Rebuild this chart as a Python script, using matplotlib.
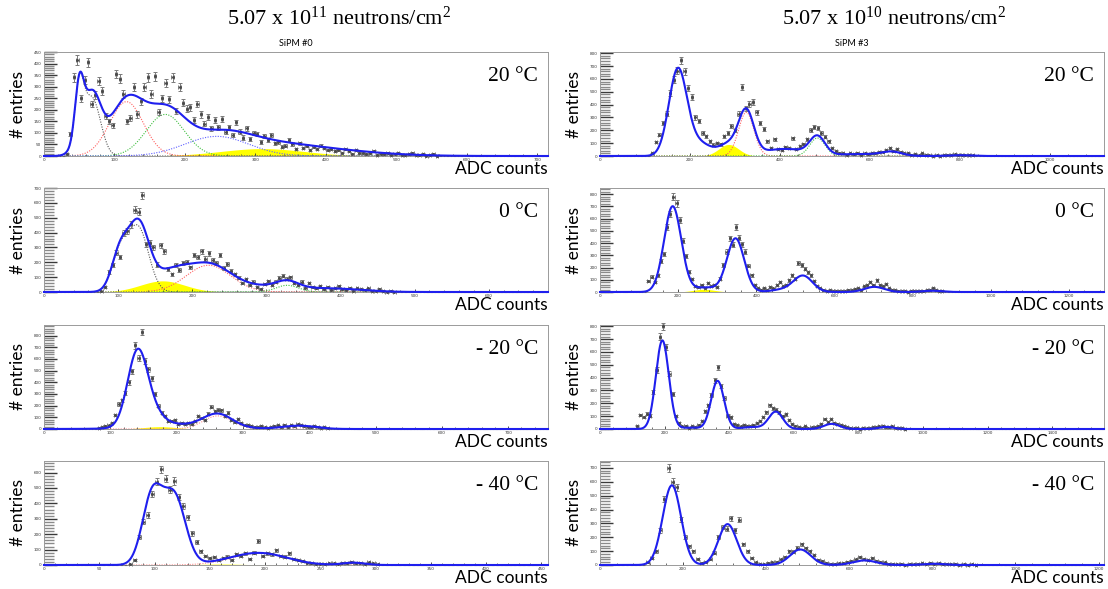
import numpy as np
import matplotlib
matplotlib.use("Agg")
import matplotlib.pyplot as plt
from matplotlib.ticker import MultipleLocator

plt.rcParams['mathtext.fontset'] = 'custom'
plt.rcParams['mathtext.rm'] = 'Liberation Serif'

W, H = 1108, 589

# ---------------- data ----------------
# histogram = first bin edge, bin width, counts
# fit = gaussian terms (mean, sigma, amplitude)
temps = ['20 °C', '0 °C', '- 20 °C', '- 40 °C']

# SiPM #0, 20 C
l1_x0, l1_bw = 30, 5
l1_counts = [10, 95, 340, 415, 250, 330, 405, 225, 265, 325,
             280, 172, 150, 132, 355, 335, 268, 150, 165, 300,
             180, 237, 300, 340, 268, 345, 190, 250, 315, 245,
             340, 195, 300, 230, 205, 210, 155, 225, 180, 140,
             170, 120, 155, 125, 160, 105, 125, 90, 145, 105,
             80, 120, 75, 100, 95, 60, 85, 70, 90, 55,
             60, 40, 45, 70, 50, 30, 55, 35, 45, 25,
             40, 30, 45, 35, 25, 30, 20, 25, 15, 30,
             20, 10, 25, 12, 15, 8, 12, 20, 6, 10,
             8, 12, 5, 10, 15, 6, 3, 8, 12, 5,
             3, 10, 0, 5, 8, 0]
l1_fit = [(50, 6, 220), (60, 13, 150), (72, 11, 140), (117, 24, 235),
          (172, 27, 180), (245, 45, 85), (310, 60, 32), (380, 80, 28)]

# SiPM #0, 0 C
l2_x0, l2_bw = 75, 5
l2_counts = [5, 35, 135, 180, 265, 235, 395, 410, 455, 555,
             540, 650, 320, 330, 300, 185, 315, 275, 155, 120,
             180, 150, 195, 200, 165, 250, 235, 275, 225, 260,
             215, 195, 250, 160, 190, 140, 120, 95, 60, 85,
             45, 70, 35, 20, 55, 75, 45, 70, 95, 110,
             90, 100, 60, 45, 70, 30, 60, 35, 25, 40,
             20, 35, 15, 25, 40, 20, 15, 30, 10, 25,
             20, 15, 25, 10, 8, 20, 5, 3, 8, 2]
l2_fit = [(102, 11, 240), (127, 14, 430), (160, 30, 75), (175, 20, 50),
          (222, 30, 180), (300, 40, 35), (328, 15, 45), (390, 40, 22)]

# SiPM #0, -20 C
l3_x0, l3_bw = 80, 5
l3_counts = [8, 15, 25, 30, 55, 120, 215, 245, 310, 400,
             495, 715, 610, 830, 580, 510, 435, 300, 200, 140,
             110, 65, 70, 75, 45, 50, 40, 55, 45, 65,
             110, 95, 75, 130, 190, 150, 165, 160, 115, 140,
             80, 60, 85, 50, 30, 35, 25, 20, 15, 25,
             15, 10, 20, 25, 30, 20, 35, 15, 30, 25,
             40, 30, 25, 20, 15, 25, 20, 10, 15, 5]
l3_fit = [(141, 15, 640), (165, 15, 80), (175, 25, 20), (210, 60, 30),
          (262, 22, 112), (385, 25, 28)]

# SiPM #0, -40 C
l4_x0, l4_bw = 76, 4
l4_counts = [5, 35, 180, 280, 325, 460, 540, 620, 560, 490,
             545, 440, 380, 310, 205, 150, 90, 60, 45, 50,
             30, 45, 55, 35, 70, 60, 75, 40, 80, 155,
             60, 75, 70, 95, 60, 55, 75, 40, 35, 25,
             15, 10, 5, 8, 5, 10, 12, 8, 15, 10,
             20, 12, 15, 8, 18, 10, 5]
l4_fit = [(98, 9, 450), (118, 10, 440), (160, 22, 6), (195, 25, 77), (280, 10, 15)]

# SiPM #3, 20 C
r1_x0, r1_bw = 112, 8
r1_counts = [20, 110, 165, 260, 330, 490, 595, 665, 745, 660,
             530, 460, 300, 275, 180, 155, 115, 88, 100, 90,
             155, 180, 235, 200, 330, 540, 370, 405, 420, 340,
             260, 210, 115, 60, 130, 55, 45, 70, 60, 140,
             55, 75, 95, 130, 205, 225, 220, 180, 150, 115,
             60, 40, 25, 20, 10, 20, 15, 25, 10, 20,
             15, 25, 20, 30, 35, 45, 60, 40, 55, 30,
             20, 25, 10, 15, 5, 20, 10, 5, 3, 8,
             2, 5, 10, 8, 12, 6, 10, 8, 4, 6]
r1_fit = [(173, 20, 670), (220, 25, 100), (286, 22, 90), (325, 17, 340),
          (410, 50, 55), (483, 17, 140), (580, 50, 15), (648, 22, 30), (800, 25, 6)]

# SiPM #3, 0 C
r2_x0, r2_bw = 120, 8
r2_counts = [90, 125, 80, 135, 250, 310, 530, 640, 780, 725,
             590, 420, 295, 165, 105, 50, 40, 60, 35, 75,
             45, 55, 40, 110, 220, 330, 440, 385, 530, 445,
             390, 330, 215, 135, 55, 30, 20, 35, 15, 40,
             30, 55, 80, 45, 60, 95, 135, 110, 235, 220,
             190, 160, 135, 90, 50, 30, 20, 10, 15, 5,
             10, 8, 5, 12, 20, 15, 25, 30, 20, 45,
             60, 80, 55, 95, 60, 45, 65, 30, 20, 15,
             10, 5, 8, 3, 10, 5, 8, 12, 6, 15,
             20, 35, 15, 10, 8]
r2_fit = [(186, 22, 700), (266, 28, 22), (280, 40, 15), (347, 22, 435),
          (470, 30, 20), (520, 24, 130), (702, 25, 42), (850, 25, 10)]

# SiPM #3, -20 C
r3_x0, r3_bw = 110, 10
r3_counts = [25, 110, 95, 120, 105, 290, 460, 720, 800, 640,
             430, 270, 100, 45, 20, 25, 10, 20, 15, 30,
             60, 140, 185, 265, 380, 480, 335, 240, 105, 90,
             40, 30, 20, 35, 25, 20, 30, 45, 65, 95,
             130, 185, 160, 150, 130, 100, 115, 70, 40, 25,
             15, 10, 20, 8, 15, 12, 25, 40, 80, 55,
             75, 50, 40, 35, 25, 15, 10, 5, 8, 3,
             10, 5, 8, 12, 15, 20, 25, 18, 15, 20,
             10, 8, 5, 3]
r3_fit = [(193, 20, 690), (280, 30, 10), (364, 20, 375), (470, 30, 15),
          (544, 22, 135), (717, 24, 40), (886, 22, 16)]

# SiPM #3, -40 C
r4_x0, r4_bw = 110, 10
r4_counts = [20, 50, 100, 250, 475, 700, 600, 560, 330, 200,
             135, 100, 45, 15, 25, 40, 90, 200, 275, 262,
             337, 250, 325, 150, 100, 50, 20, 10, 5, 15,
             20, 25, 40, 60, 100, 95, 125, 150, 120, 100,
             70, 35, 30, 15, 10, 8, 12, 15, 25, 30,
             40, 55, 45, 35, 50, 30, 25, 20, 10, 8,
             5, 10, 3, 8, 5, 10, 12, 8, 15, 10,
             12, 6, 10, 4, 8, 3, 5, 2, 6, 3]
r4_fit = [(173, 22, 575), (307, 22, 295), (482, 25, 112), (637, 28, 33), (804, 25, 9)]

# panel settings: hist, fit, x max, y max, x step, y step, yellow term, dotted terms
panels = [
    [(l1_x0, l1_bw, l1_counts, l1_fit, 715, 450, 100, 50, 6,
      [([0, 1, 2], '#555555'), ([3], '#ff6060'), ([4], '#40c040'), ([5], '#6060ff')]),
     (l2_x0, l2_bw, l2_counts, l2_fit, 680, 700, 100, 100, 2,
      [([0, 1], '#555555'), ([4], '#ff6060'), ([6], '#40c040')]),
     (l3_x0, l3_bw, l3_counts, l3_fit, 760, 890, 100, 100, 2, [([4], '#ff9090')]),
     (l4_x0, l4_bw, l4_counts, l4_fit, 456, 675, 50, 100, 2, [([3], '#ff9090')])],
    [(r1_x0, r1_bw, r1_counts, r1_fit, 1120, 810, 200, 100, 2,
      [([3], '#ff6060'), ([5], '#40c040')]),
     (r2_x0, r2_bw, r2_counts, r2_fit, 1290, 850, 200, 100, 1, []),
     (r3_x0, r3_bw, r3_counts, r3_fit, 1560, 810, 200, 100, None, []),
     (r4_x0, r4_bw, r4_counts, r4_fit, 1213, 750, 200, 100, None, [])],
]


def gauss_sum(x, terms, idx=None):
    y = np.zeros_like(x)
    for i, (mu, s, a) in enumerate(terms):
        if idx is None or i in idx:
            y += a * np.exp(-0.5 * ((x - mu) / s) ** 2)
    return y


def draw(ax, x0, bw, counts, fit, xmax, ymax, xstep, ystep, yellow, dotted, temp):
    counts = np.array(counts, float)
    n = len(counts)
    k = np.arange(-int(x0 // bw), int((xmax - x0) // bw) + 1)
    allc = x0 + bw * (k + 0.5)
    centers = allc[(k >= 0) & (k < n)]
    empty = allc[((k < 0) | (k >= n)) & (allc < xmax)]

    xs = np.linspace(0, xmax, 2000)
    if yellow is not None:
        ax.fill_between(xs, 0, gauss_sum(xs, fit, [yellow]), color='#ffff00', lw=0, zorder=1)
    for idx, c in dotted:
        ax.plot(xs, gauss_sum(xs, fit, idx), color=c, lw=0.8, ls=(0, (1, 1.3)), zorder=2)

    ax.errorbar(empty, np.zeros_like(empty), xerr=bw * 0.35, fmt='none',
                ecolor='#666666', elinewidth=0.8, clip_on=False, zorder=3)
    ax.errorbar(centers, counts, yerr=np.sqrt(counts), xerr=bw * 0.35, fmt='o', ms=1.1,
                color='#4a4a4a', ecolor='#7a7a7a', elinewidth=0.7, capsize=1.6, capthick=0.7,
                clip_on=False, zorder=3)

    ax.plot(xs, gauss_sum(xs, fit), color='#1f1fee', lw=1.5, zorder=4, clip_on=False)

    ax.set_xlim(0, xmax)
    ax.set_ylim(0, ymax)
    ax.xaxis.set_major_locator(MultipleLocator(xstep))
    ax.xaxis.set_minor_locator(MultipleLocator(xstep / 5))
    ax.yaxis.set_major_locator(MultipleLocator(ystep))
    ax.yaxis.set_minor_locator(MultipleLocator(ystep / 5))
    ax.tick_params(axis='y', which='major', direction='in', length=9, width=1.0,
                   color='#3a3a3a', labelsize=3, pad=2, labelcolor='#333333')
    ax.tick_params(axis='y', which='minor', direction='in', length=7, width=1.0, color='#8a8a8a')
    ax.tick_params(axis='x', which='major', direction='in', length=2.5, width=0.6,
                   color='#333333', labelsize=3, pad=1.5, labelcolor='#333333')
    ax.tick_params(axis='x', which='minor', direction='in', length=1.2, width=0.5, color='#333333')
    for sp in ax.spines.values():
        sp.set_color('#9a9a9a')
        sp.set_linewidth(0.7)

    ax.text(0.98, 0.76, temp, transform=ax.transAxes, ha='right', va='center',
            fontsize=15.5, family='Liberation Serif')
    ax.text(1.0, -0.05, 'ADC counts', transform=ax.transAxes, ha='right', va='top',
            fontsize=12.5, family='Lato')


fig = plt.figure(figsize=(W / 100, H / 100), dpi=100)

tops = [52, 188, 325, 461]
ph = 104
lefts = [44, 600]
pw = [504, 504]

for col in range(2):
    for row in range(4):
        left, top = lefts[col], tops[row]
        ax = fig.add_axes([left / W, 1 - (top + ph) / H, pw[col] / W, ph / H])
        draw(ax, *panels[col][row], temps[row])
        fig.text((left - 26) / W, 1 - (top + ph / 2) / H, '# entries', rotation=90,
                 ha='center', va='center', fontsize=12.5, family='Lato')

fig.text(339 / W, 1 - 18 / H, r'5.07 x $\mathrm{10^{11}}$ neutrons/$\mathrm{cm^{2}}$',
         ha='center', va='center', fontsize=16, family='Liberation Serif')
fig.text(894 / W, 1 - 18 / H, r'5.07 x $\mathrm{10^{10}}$ neutrons/$\mathrm{cm^{2}}$',
         ha='center', va='center', fontsize=16, family='Liberation Serif')
fig.text(296 / W, 1 - 43 / H, 'SiPM #0', ha='center', va='center', fontsize=6.5, family='Lato')
fig.text(852 / W, 1 - 43 / H, 'SiPM #3', ha='center', va='center', fontsize=6.5, family='Lato')

fig.savefig('out.png', dpi=100)
